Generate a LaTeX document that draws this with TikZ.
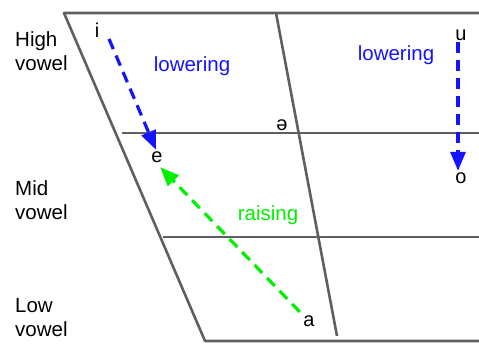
\documentclass[tikz,border=0pt]{standalone}
\usepackage{fontspec}
\setmainfont{Liberation Sans}
\usetikzlibrary{arrows.meta}

\definecolor{chartgray}{RGB}{95,95,95}
\definecolor{lowerblue}{RGB}{20,20,255}
\definecolor{raisegreen}{RGB}{0,240,0}

\begin{document}
\begin{tikzpicture}[
  x=1pt,
  y=-1pt,
  line join=round,
  chartline/.style={line width=2.6pt, draw=chartgray},
  vowel/.style={inner sep=1.5pt, font=\fontsize{20}{20}\selectfont},
  rowlabel/.style={align=left, anchor=west, inner sep=0pt,
    font=\fontsize{20.5}{24}\selectfont},
  lowerarrow/.style={
    draw=lowerblue, line width=3.2pt,
    dash pattern=on 11pt off 7pt,
    -{Triangle[length=19pt,width=15pt]}
  },
  raisearrow/.style={
    draw=raisegreen, line width=3.2pt,
    dash pattern=on 11pt off 7pt,
    -{Triangle[length=19pt,width=15pt]}
  }
]
  \useasboundingbox (0,0) rectangle (479,344);

  % Umriss der Vokaltabelle
  \draw[chartline]
    (479,13) -- (64,13) -- (205,341) -- (479,341);

  % Mittellinie
  \draw[chartline]
    (276,13) -- (337,336);

  % Hoehenstufen
  \draw[chartline]
    (122,133) -- (479,133);

  \draw[chartline]
    (163,237) -- (479,237);

  % Zeilenbeschriftung
  \node[rowlabel] (high) at (15,51) {High\\vowel};
  \node[rowlabel] (mid) at (15,200) {Mid\\vowel};
  \node[rowlabel] (low) at (15,318) {Low\\vowel};

  % Vokale
  \node[vowel] (i) at (97,30) {i};
  \node[vowel] (u) at (461,35) {u};
  \node[vowel] (schwa) at (282,125) {ə};
  \node[vowel] (e) at (157,157) {e};
  \node[vowel] (o) at (461,178) {o};
  \node[vowel] (a) at (309,321) {a};

  % Verschiebungen
  \draw[lowerarrow]
    ([xshift=12pt]i.south) -- ([xshift=-1pt]e.north);

  \draw[lowerarrow]
    ([xshift=-3pt]u.south) -- ([xshift=-3pt]o.north);

  \draw[raisearrow]
    ([shift={(-2pt,2pt)}]a.north west) -- ([shift={(-4pt,-3pt)}]e.south east);

  \node[text=lowerblue, font=\fontsize{20.5}{20}\selectfont]
    (lowerleft) at (192,66) {lowering};
  \node[text=lowerblue, font=\fontsize{20.5}{20}\selectfont]
    (lowerright) at (396,55) {lowering};
  \node[text=raisegreen, font=\fontsize{20.5}{20}\selectfont]
    (raise) at (268,215) {raising};
\end{tikzpicture}
\end{document}
